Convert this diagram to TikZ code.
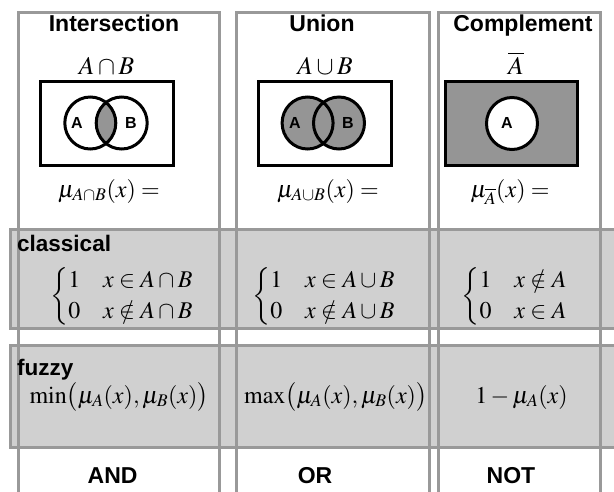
\documentclass[tikz,border=0pt]{standalone}
\usepackage{mathptmx}
\usepackage[no-math]{fontspec}
\newfontfamily\hsans{Liberation Sans}
\definecolor{linegray}{HTML}{999999}
\definecolor{rowgray}{HTML}{D0D0D0}
\definecolor{venngray}{HTML}{959595}
\tikzset{
  frameline/.style={draw=linegray, line width=3pt},
  vennline/.style={draw=black, line width=3pt},
  head/.style={anchor=base, inner sep=0pt, font=\hsans\bfseries\fontsize{23}{27}\selectfont},
  rowtag/.style={anchor=base west, inner sep=0pt, font=\hsans\bfseries\fontsize{22.5}{26}\selectfont},
  mth/.style={anchor=base, inner sep=0pt, font=\fontsize{24}{28}\selectfont},
  settitle/.style={anchor=base, inner sep=0pt, font=\fontsize{25.5}{30}\selectfont},
  mthc/.style={anchor=center, inner sep=0pt, font=\fontsize{24}{28}\selectfont},
  setlbl/.style={inner sep=0pt, font=\hsans\bfseries\fontsize{16}{19}\selectfont},
  setA/.style={x radius=25.5, y radius=26},
}
\newcommand{\twocase}[2]{%
  \renewcommand{\arraystretch}{1.1}%
  $\left\{\begin{array}{@{}l@{\hspace{0.95em}}l@{}}1 & #1\\ 0 & #2\end{array}\right.$}
\begin{document}
\begin{tikzpicture}[x=1pt, y=-1pt]
  \useasboundingbox (0,0) rectangle (614,491);
  \clip (0,0) rectangle (614,491);

  % shaded rows: classical and fuzzy
  \fill[rowgray] (10,229.5) rectangle (630,328);
  \fill[rowgray] (10,345.5) rectangle (630,447);

  % the three columns
  \draw[frameline] (18,12.5) rectangle (219,510);
  \draw[frameline] (236,12.5) rectangle (429.5,510);
  \draw[frameline] (438,12.5) rectangle (600,510);

  % row outlines
  \draw[frameline] (10,229.5) rectangle (630,328);
  \draw[frameline] (10,345.5) rectangle (630,447);

  % headings
  \node[head] (hint) at (114,31) {Intersection};
  \node[head] (huni) at (322,31) {Union};
  \node[head] (hcom) at (523,31) {Complement};

  % set expressions
  \node[settitle] (tint) at (106.5,74) {$A\cap B$};
  \node[settitle] (tuni) at (325,74) {$A\cup B$};
  \node[settitle] (tcom) at (516,74) {$\overline{A}$};

  % Venn diagram: intersection
  \draw[vennline, fill=white] (40.7,81) rectangle (173.3,165);
  \begin{scope}
    \clip (90.3,123) ellipse [setA];
    \fill[venngray] (121.7,123) ellipse [setA];
  \end{scope}
  \draw[vennline] (90.3,123) ellipse [setA];
  \draw[vennline] (121.7,123) ellipse [setA];
  \node[setlbl] (ia) at (77,122.5) {A};
  \node[setlbl] (ib) at (131,122.5) {B};

  % Venn diagram: union
  \draw[vennline, fill=white] (258,81) rectangle (391,165);
  \fill[venngray] (307.6,123) ellipse [setA];
  \fill[venngray] (339,123) ellipse [setA];
  \draw[vennline] (307.6,123) ellipse [setA];
  \draw[vennline] (339,123) ellipse [setA];
  \node[setlbl] (ua) at (295,122.5) {A};
  \node[setlbl] (ub) at (348,122.5) {B};

  % Venn diagram: complement
  \draw[vennline, fill=venngray] (445.5,81) rectangle (577.5,165);
  \draw[vennline, fill=white] (512,123.5) ellipse [setA];
  \node[setlbl] (ca) at (507,122.5) {A};

  % membership functions
  \node[mth] (mint) at (109,197) {$\mu_{A\cap B}(x)=$};
  \node[mth] (muni) at (328,197) {$\mu_{A\cup B}(x)=$};
  \node[mth] (mcom) at (510,197) {$\mu_{\overline{A}}(x)=$};

  % classical row
  \node[rowtag] (lcl) at (17,251.7) {classical};
  \node[mthc] (cint) at (122,296.5) {\twocase{x\in A\cap B}{x\notin A\cap B}};
  \node[mthc] (cuni) at (324,296.5) {\twocase{x\in A\cup B}{x\notin A\cup B}};
  \node[mthc] (ccom) at (514.6,296.5) {\twocase{x\notin A}{x\in A}};

  % fuzzy row
  \node[rowtag] (lfz) at (17,375) {fuzzy};
  \node[mth] (fint) at (119,403) {$\min\bigl(\mu_A(x),\mu_B(x)\bigr)$};
  \node[mth] (funi) at (335.6,403) {$\max\bigl(\mu_A(x),\mu_B(x)\bigr)$};
  \node[mth] (fcom) at (521.5,403) {$1-\mu_A(x)$};

  % logic operators
  \node[head] (oand) at (112.6,483) {AND};
  \node[head] (oor) at (315,483) {OR};
  \node[head] (onot) at (511,483) {NOT};
\end{tikzpicture}
\end{document}
